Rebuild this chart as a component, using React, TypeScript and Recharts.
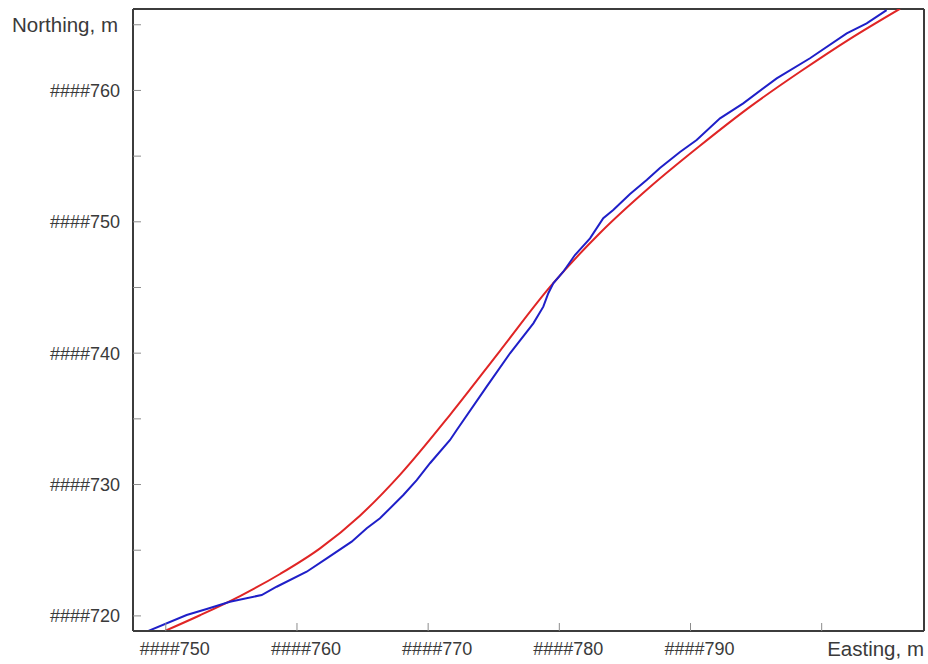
import React from 'react';
import { LineChart, Line, XAxis, YAxis, ReferenceLine } from 'recharts';

// axis ticks
const eastingTicks = [750, 760, 770, 780, 790, 800];
const eastingTickLabels = ['####750', '####760', '####770', '####780', '####790', ''];
const northingTicks = [720, 725, 730, 735, 740, 745, 750, 755, 760, 765];
const northingTickLabels = ['####720', '', '####730', '', '####740', '', '####750', '', '####760', ''];

// red (smooth) track
const redEasting = [
    749.81, 752.61, 755.66, 758.71, 761.76, 764.8, 767.85, 771.67, 775.48, 779.29,
    783.1, 786.91, 790.72, 794.53, 798.35, 802.16, 805.97,
];
const redNorthing = [
    718.8, 720.05, 721.51, 723.19, 725.14, 727.63, 730.74, 735.31, 740.18, 745.04,
    749.15, 752.65, 755.79, 758.75, 761.42, 763.93, 766.22,
];

// blue (measured) track
const blueEasting = [
    748.54, 751.59, 753.12, 754.89, 757.31, 758.45, 760.74, 762.27, 764.17, 765.32,
    766.33, 768.11, 769.13, 770.14, 771.67, 772.18, 774.46, 776.24, 778.02, 778.78,
    779.16, 779.54, 780.3, 781.19, 782.34, 783.35, 784.11, 785.39, 786.66, 787.67,
    789.2, 790.47, 792.25, 794.02, 796.57, 799.11, 801.91, 803.43, 804.95,
];
const blueNorthing = [
    718.8, 720.07, 720.52, 721.08, 721.59, 722.22, 723.36, 724.38, 725.65, 726.67,
    727.43, 729.2, 730.34, 731.62, 733.39, 734.15, 737.45, 739.99, 742.27, 743.54,
    744.56, 745.32, 746.2, 747.47, 748.74, 750.27, 750.9, 752.12, 753.18, 754.1,
    755.31, 756.23, 757.88, 759.02, 760.92, 762.45, 764.35, 765.11, 766.12,
];

const redData = redEasting.map((e, i) => ({ e, n: redNorthing[i] }));
const blueData = blueEasting.map((e, i) => ({ e, n: blueNorthing[i] }));

const FONT = '"Liberation Sans", Arial, sans-serif';
const TEXT = '#3a3a3a';
const FRAME = '#3c3c3c';

const EastingTick = (props: any) => {
    const { x, y, payload } = props;
    const label = eastingTickLabels[eastingTicks.indexOf(payload.value)];
    return (
        <g>
            <line x1={x} y1={y} x2={x} y2={y - 8} stroke="#8c8c8c" strokeWidth={1} />
            <text x={x + 9} y={y + 24} textAnchor="middle" fill={TEXT} fontSize={18} fontFamily={FONT}>
                {label}
            </text>
        </g>
    );
};

const NorthingTick = (props: any) => {
    const { x, y, payload } = props;
    const label = northingTickLabels[northingTicks.indexOf(payload.value)];
    return (
        <g>
            <line x1={x} y1={y} x2={x + 8} y2={y} stroke="#8c8c8c" strokeWidth={1} />
            <text x={x - 13} y={y + 6.5} textAnchor="end" fill={TEXT} fontSize={18} fontFamily={FONT}>
                {label}
            </text>
        </g>
    );
};

const EastingTitle = (props: any) => {
    const vb = props.viewBox || {};
    return (
        <text x={vb.x + vb.width} y={vb.y + 24.5} textAnchor="end" fill={TEXT} fontSize={20.5} fontFamily={FONT}>
            Easting, m
        </text>
    );
};

const NorthingTitle = (props: any) => {
    const vb = props.viewBox || {};
    return (
        <text x={vb.x + vb.width - 15} y={vb.y + 23} textAnchor="end" fill={TEXT} fontSize={20.5} fontFamily={FONT}>
            Northing, m
        </text>
    );
};

export default function App() {
    return (
        <div style={{ position: 'absolute', left: 0, top: 0, width: 928, height: 664, background: '#fff' }}>
            <LineChart width={928} height={664} margin={{ top: 9, right: 4, bottom: 0, left: 0 }}>
                <XAxis
                    dataKey="e"
                    type="number"
                    domain={[747.5, 807.8]}
                    allowDataOverflow
                    ticks={eastingTicks}
                    interval={0}
                    height={33}
                    tickSize={0}
                    tickMargin={0}
                    tick={<EastingTick />}
                    axisLine={{ stroke: FRAME, strokeWidth: 2 }}
                    label={{ content: (p: any) => <EastingTitle {...p} /> }}
                />
                <YAxis
                    dataKey="n"
                    type="number"
                    domain={[718.85, 766.2]}
                    allowDataOverflow
                    ticks={northingTicks}
                    interval={0}
                    width={133}
                    tickSize={0}
                    tickMargin={0}
                    tick={<NorthingTick />}
                    axisLine={{ stroke: FRAME, strokeWidth: 2 }}
                    label={{ content: (p: any) => <NorthingTitle {...p} /> }}
                />
                <ReferenceLine y={766.2} stroke={FRAME} strokeWidth={2} />
                <ReferenceLine x={807.8} stroke={FRAME} strokeWidth={2} />
                <Line
                    data={redData}
                    dataKey="n"
                    type="monotone"
                    stroke="#e02525"
                    strokeWidth={2}
                    dot={false}
                    isAnimationActive={false}
                />
                <Line
                    data={blueData}
                    dataKey="n"
                    type="linear"
                    stroke="#1f1fc8"
                    strokeWidth={2}
                    dot={false}
                    isAnimationActive={false}
                />
            </LineChart>
        </div>
    );
}
